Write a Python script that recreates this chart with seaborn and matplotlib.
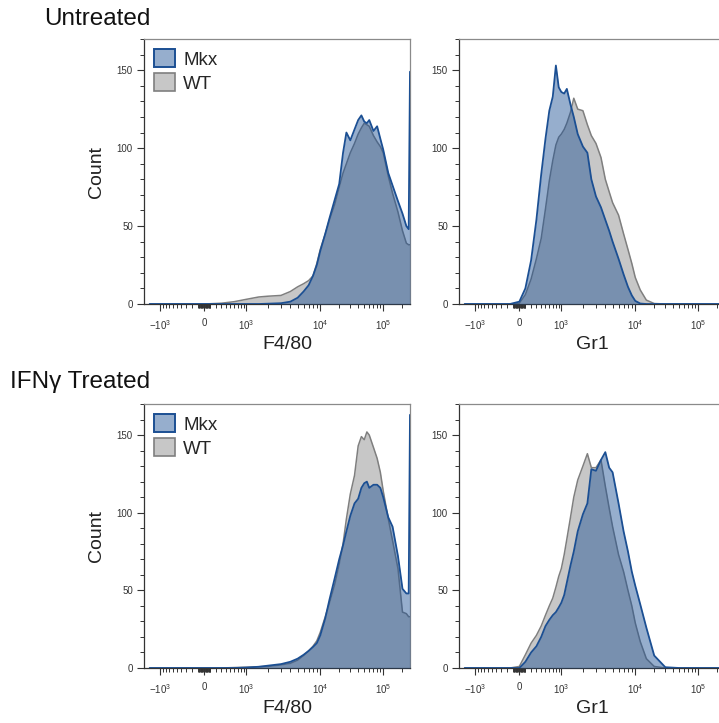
import numpy as np
import pandas as pd
import matplotlib
matplotlib.use("Agg")
import matplotlib.pyplot as plt
from matplotlib.patches import Patch
import seaborn as sns

# channel values (data units) the histograms were read at
F480_X = [-1500, -1000, -500, 0, 300, 600, 1000, 1500, 2000, 3000, 4000, 5000,
          6000, 7000, 8000, 9000, 10000, 12000, 14000, 17000, 20000, 23000,
          26000, 30000, 35000, 40000, 45000, 50000, 55000, 60000, 70000, 80000,
          90000, 100000, 120000, 140000, 170000, 200000, 230000, 250000, 262144]
GR1_X = [-1500, -1000, -500, -300, -150, 0, 100, 200, 300, 400, 500, 600, 700,
         800, 900, 1000, 1100, 1200, 1350, 1500, 1700, 2000, 2300, 2600, 3000,
         3500, 4000, 4500, 5000, 6000, 7000, 8000, 9000, 10000, 12000, 15000,
         20000, 30000, 50000, 100000, 262144]

# counts per channel
F480_UNTR_MKX = [0, 0, 0, 0, 0, 0, 0, 0, 0.2, 0.5, 1.5, 4, 8, 12, 18, 25, 34,
                 45, 55, 67, 77, 97, 110, 105, 112, 118, 121, 117, 116, 118,
                 111, 114, 106, 99, 84, 76, 66, 58, 50, 48, 149]
F480_UNTR_WT = [0, 0, 0, 0, 0.5, 1.5, 3, 4.5, 5, 5.5, 8, 11, 13, 15, 18, 26, 35,
                45, 54, 64, 75, 84, 90, 97, 103, 109, 113, 116, 115, 114, 108,
                104, 101, 97, 82, 71, 59, 47, 39, 38, 38]
F480_IFN_MKX = [0, 0, 0, 0, 0, 0, 0.3, 0.8, 1.5, 2.5, 4, 6, 8.5, 11, 13.5, 16,
                21, 32, 44, 58, 70, 79, 88, 98, 106, 109, 116, 119, 120, 116,
                118, 118, 116, 110, 97, 91, 72, 51, 48, 48, 163]
F480_IFN_WT = [0, 0, 0, 0, 0, 0.3, 0.5, 0.8, 1, 2, 3, 5, 8, 11, 14, 17.5, 23,
               33, 42, 54, 67, 80, 96, 112, 124, 143, 149, 147, 152, 150, 142,
               135, 126, 114, 96, 82, 64, 36, 35, 33, 33]
GR1_UNTR_MKX = [0, 0, 0, 0, 0, 1.5, 10, 28, 54, 83, 106, 124, 133, 153, 139,
                136, 135, 138, 128, 120, 109, 101, 97, 80, 69, 62, 54, 47, 40,
                29, 19, 11, 5.5, 2, 0.3, 0, 0, 0, 0, 0, 0]
GR1_UNTR_WT = [0, 0, 0, 0, 0, 0.5, 6, 16, 29, 42, 61, 79, 92, 102, 107, 109,
               112, 116, 123, 132, 125, 124, 115, 108, 103, 94, 80, 72, 65, 57,
               45, 35, 26, 17, 9, 2.5, 0.3, 0, 0, 0, 0]
GR1_IFN_MKX = [0, 0, 0, 0, 0, 0, 4, 10, 14, 20, 27, 31, 34, 36, 39, 42, 47, 55,
               66, 75, 88, 99, 106, 128, 127, 134, 139, 129, 126, 106, 88, 75,
               62, 53, 41, 26, 8, 0.5, 0, 0, 0]
GR1_IFN_WT = [0, 0, 0, 0, 0, 1, 8.5, 16, 21, 27, 34, 40, 45, 52, 59, 64, 73, 83,
              97, 110, 121, 130, 138, 129, 129, 134, 117, 103, 91, 73, 62, 50,
              40, 29, 17, 6, 1, 0, 0, 0, 0]

X_TICKS = [-1000, 0, 1000, 10000, 100000]
X_TICK_LABELS = [r"$-10^{3}$", "0", r"$10^{3}$", r"$10^{4}$", r"$10^{5}$"]

MKX_COLOR = "#1b4f93"
WT_LINE = "#7f7f7f"
WT_FILL = "#a3a3a3"
MKX_ALPHA = 0.46
WT_ALPHA = 0.6

# biexponential-like axis: asinh, pinned to the tick layout of the cytometer plot
_W = 450.0
_ANCH_X = np.array([-1e6, -1e3, 0.0, 1e3, 1e4, 1e5, 1e7])
_ANCH_U = np.arcsinh(_ANCH_X / _W)
_ANCH_P = np.array([-32.0, 161.0, 205.0, 247.0, 321.0, 384.0, 512.0])


def biex_fwd(x):
    return np.interp(np.arcsinh(np.asarray(x, dtype=float) / _W), _ANCH_U, _ANCH_P)


def biex_inv(p):
    return _W * np.sinh(np.interp(np.asarray(p, dtype=float), _ANCH_P, _ANCH_U))


def minor_ticks():
    ticks = []
    for dec in (10, 100):
        for k in range(1, 10):
            ticks += [k * dec, -k * dec]
    for dec in (1000, 10000):
        for k in range(2, 10):
            ticks.append(k * dec)
    ticks.append(200000)
    return sorted(ticks)


sns.set_theme(style="ticks")
plt.rcParams["font.family"] = ["Liberation Sans", "DejaVu Sans"]
plt.rcParams["mathtext.fontset"] = "custom"
plt.rcParams["mathtext.rm"] = "Liberation Sans"
plt.rcParams["mathtext.it"] = "Liberation Sans:italic"
plt.rcParams["mathtext.bf"] = "Liberation Sans:bold"


def draw_panel(ax, x, mkx, wt, xlabel, xlabel_x, show_ylabel):
    ax.set_xscale("function", functions=(biex_fwd, biex_inv))

    df = pd.DataFrame({"x": x, "mkx": mkx, "wt": wt})
    ax.fill_between(df["x"], df["wt"], color=WT_FILL, alpha=WT_ALPHA, lw=0, zorder=1)
    sns.lineplot(data=df, x="x", y="wt", color=WT_LINE, lw=1.1, estimator=None,
                 ax=ax, zorder=2)
    ax.fill_between(df["x"], df["mkx"], color=MKX_COLOR, alpha=MKX_ALPHA, lw=0,
                    zorder=3)
    sns.lineplot(data=df, x="x", y="mkx", color=MKX_COLOR, lw=1.3, estimator=None,
                 ax=ax, zorder=4)

    ax.set_xlim(-1850, 262144)
    ax.set_ylim(0, 170)
    ax.set_xticks(X_TICKS)
    ax.set_xticklabels(X_TICK_LABELS)
    ax.set_xticks(minor_ticks(), minor=True)
    ax.set_yticks([0, 50, 100, 150])
    ax.set_yticks(np.arange(0, 171, 10), minor=True)

    ax.tick_params(which="major", direction="out", length=5, width=0.8,
                   labelsize=7, color="#333333", labelcolor="#333333")
    ax.tick_params(axis="x", which="major", pad=5)
    ax.tick_params(axis="y", which="major", pad=3)
    ax.tick_params(which="minor", direction="out", length=2.8, width=0.7,
                   color="#333333")
    for side in ("left", "bottom"):
        ax.spines[side].set_color("#333333")
        ax.spines[side].set_linewidth(0.9)
    for side in ("top", "right"):
        ax.spines[side].set_color("#8a8a8a")
        ax.spines[side].set_linewidth(0.9)

    ax.set_xlabel(xlabel, fontsize=14, color="#222222")
    ax.xaxis.set_label_coords(xlabel_x, -0.12)
    if show_ylabel:
        ax.set_ylabel("Count", fontsize=14, color="#222222")
        ax.yaxis.set_label_coords(-0.145, 0.5)
    else:
        ax.set_ylabel("")


def add_legend(ax):
    handles = [
        Patch(facecolor=(*matplotlib.colors.to_rgb(MKX_COLOR), MKX_ALPHA),
              edgecolor=MKX_COLOR, lw=1.4, label="Mkx"),
        Patch(facecolor=(*matplotlib.colors.to_rgb(WT_FILL), WT_ALPHA),
              edgecolor=WT_LINE, lw=1.2, label="WT"),
    ]
    ax.legend(handles=handles, loc="upper left", frameon=False, fontsize=13.5,
              handlelength=1.1, handleheight=1.1, handletextpad=0.45,
              labelspacing=0.25, borderaxespad=0.45, borderpad=0.1)


fig = plt.figure(figsize=(7.19, 7.23), dpi=100)
W, H = 719.0, 723.0
ax_tl = fig.add_axes([144 / W, 1 - 304 / H, 266 / W, 265 / H])
ax_tr = fig.add_axes([459 / W, 1 - 304 / H, 266 / W, 265 / H])
ax_bl = fig.add_axes([144 / W, 1 - 668 / H, 266 / W, 264 / H])
ax_br = fig.add_axes([459 / W, 1 - 668 / H, 266 / W, 264 / H])

draw_panel(ax_tl, F480_X, F480_UNTR_MKX, F480_UNTR_WT, "F4/80", 0.54, True)
draw_panel(ax_tr, GR1_X, GR1_UNTR_MKX, GR1_UNTR_WT, "Gr1", 0.5, False)
draw_panel(ax_bl, F480_X, F480_IFN_MKX, F480_IFN_WT, "F4/80", 0.54, True)
draw_panel(ax_br, GR1_X, GR1_IFN_MKX, GR1_IFN_WT, "Gr1", 0.5, False)
add_legend(ax_tl)
add_legend(ax_bl)

fig.text(44 / W, 1 - 25 / H, "Untreated", fontsize=17.5, va="baseline", ha="left",
         color="#111111")
fig.text(10 / W, 1 - 388 / H, "IFNγ Treated", fontsize=17.5, va="baseline",
         ha="left", color="#111111")

fig.savefig("out.png", dpi=100)
